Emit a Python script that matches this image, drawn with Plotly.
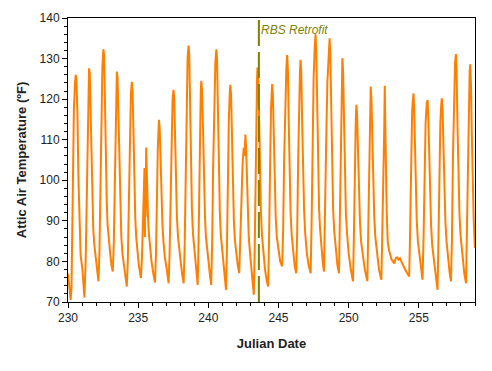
import plotly.graph_objects as go

# Julian date (day + fraction) and attic air temperature (deg F)
julian = [
    230.00, 230.05, 230.12, 230.19, 230.25, 230.30, 230.35, 230.42, 230.50, 230.55, 230.60, 230.67, 230.74, 230.79, 230.86, 230.90,
    231.02, 231.10, 231.17, 231.26, 231.33, 231.40, 231.46, 231.50, 231.55, 231.61, 231.68, 231.74, 231.80, 231.88,
    232.00, 232.08, 232.17, 232.24, 232.31, 232.38, 232.45, 232.52, 232.57, 232.63, 232.70, 232.76, 232.82, 232.90,
    233.02, 233.10, 233.19, 233.26, 233.32, 233.38, 233.43, 233.48, 233.53, 233.60, 233.67, 233.73, 233.80, 233.88,
    234.00, 234.10, 234.19, 234.26, 234.33, 234.40, 234.48, 234.55, 234.60, 234.66, 234.73, 234.79, 234.86, 234.94,
    235.05, 235.12, 235.20, 235.27, 235.34, 235.40, 235.45, 235.48, 235.50, 235.53, 235.57, 235.60, 235.65, 235.70, 235.76, 235.84, 235.95,
    236.08, 236.20, 236.27, 236.33, 236.40, 236.48, 236.53, 236.59, 236.66, 236.73, 236.80, 236.90,
    237.02, 237.10, 237.17, 237.24, 237.31, 237.38, 237.45, 237.52, 237.57, 237.63, 237.70, 237.76, 237.84, 237.94,
    238.06, 238.15, 238.24, 238.31, 238.38, 238.45, 238.52, 238.59, 238.64, 238.70, 238.77, 238.83, 238.90,
    239.00, 239.12, 239.24, 239.29, 239.35, 239.41, 239.46, 239.50, 239.55, 239.62, 239.69, 239.76, 239.83, 239.93,
    240.05, 240.12, 240.20, 240.27, 240.34, 240.42, 240.50, 240.57, 240.62, 240.68, 240.75, 240.82, 240.89,
    241.00, 241.12, 241.26, 241.32, 241.39, 241.46, 241.53, 241.57, 241.62, 241.68, 241.75, 241.82, 241.90,
    242.00, 242.10, 242.20, 242.28, 242.36, 242.44, 242.52, 242.58, 242.64, 242.69, 242.75, 242.81, 242.88, 242.97,
    243.08, 243.17, 243.24, 243.30, 243.36, 243.42, 243.47, 243.50, 243.55, 243.61, 243.68, 243.75, 243.82, 243.92,
    244.04, 244.15, 244.26, 244.32, 244.39, 244.46, 244.52, 244.55, 244.60, 244.66, 244.73, 244.80, 244.88,
    245.00, 245.12, 245.26, 245.33, 245.40, 245.48, 245.56, 245.62, 245.67, 245.73, 245.80, 245.86, 245.94,
    246.05, 246.15, 246.26, 246.33, 246.40, 246.47, 246.53, 246.57, 246.62, 246.68, 246.75, 246.82, 246.90,
    247.02, 247.15, 247.29, 247.36, 247.43, 247.50, 247.58, 247.64, 247.69, 247.75, 247.82, 247.89, 247.96,
    248.08, 248.16, 248.24, 248.32, 248.40, 248.48, 248.56, 248.64, 248.69, 248.75, 248.82, 248.89, 248.97,
    249.10, 249.20, 249.31, 249.37, 249.43, 249.49, 249.55, 249.60, 249.66, 249.73, 249.80, 249.88,
    250.00, 250.15, 250.31, 250.37, 250.43, 250.50, 250.55, 250.60, 250.66, 250.73, 250.80, 250.88,
    251.00, 251.15, 251.33, 251.39, 251.45, 251.51, 251.57, 251.62, 251.68, 251.75, 251.82, 251.90,
    252.02, 252.16, 252.33, 252.39, 252.45, 252.49, 252.53, 252.57, 252.61, 252.64, 252.68, 252.72, 252.78, 252.86, 252.95,
    253.05, 253.15, 253.25, 253.35, 253.45, 253.55, 253.65, 253.75, 253.85, 253.95,
    254.10, 254.20, 254.31, 254.37, 254.44, 254.52, 254.58, 254.62, 254.66, 254.72, 254.78, 254.85, 254.93,
    255.05, 255.15, 255.26, 255.33, 255.40, 255.48, 255.56, 255.62, 255.67, 255.73, 255.80, 255.87, 255.95,
    256.08, 256.20, 256.33, 256.39, 256.46, 256.53, 256.60, 256.64, 256.69, 256.75, 256.82, 256.89, 256.97,
    257.10, 257.20, 257.29, 257.36, 257.43, 257.50, 257.58, 257.64, 257.69, 257.75, 257.82, 257.89, 257.97,
    258.10, 258.24, 258.36, 258.42, 258.49, 258.56, 258.62, 258.66, 258.71, 258.77, 258.83, 258.90, 258.96,
    259.00,
]

temp_f = [
    77.0, 75.5, 72.5, 70.5, 73.5, 88.5, 106.5, 117.5, 124.0, 126.0, 125.0, 117.0, 101.0, 92.0, 85.0, 81.5,
    78.3, 75.1, 71.1, 80.0, 96.4, 114.5, 124.0, 127.6, 126.5, 118.0, 103.0, 94.0, 88.0, 84.0,
    80.5, 78.0, 75.1, 82.0, 100.0, 118.0, 128.0, 132.3, 131.0, 120.0, 104.0, 95.0, 89.0, 85.0,
    81.5, 79.0, 77.5, 84.0, 99.0, 113.0, 122.0, 126.8, 125.5, 116.0, 101.0, 92.0, 86.0, 82.0,
    78.5, 76.0, 73.8, 80.0, 96.0, 112.0, 121.0, 124.3, 122.0, 113.0, 99.0, 91.0, 86.0, 82.0,
    79.0, 77.5, 75.9, 81.0, 88.0, 95.0, 103.0, 86.0, 99.0, 91.0, 108.1, 103.0, 96.0, 91.0, 87.0, 83.0, 80.0,
    77.0, 74.8, 82.0, 95.0, 108.0, 114.9, 113.0, 106.0, 96.0, 89.0, 85.0, 81.0,
    78.5, 76.5, 74.6, 82.0, 98.0, 112.0, 120.0, 122.3, 120.0, 111.0, 99.0, 91.0, 86.0, 82.0,
    79.0, 76.5, 74.6, 83.0, 102.0, 120.0, 130.0, 133.2, 131.0, 119.0, 102.0, 93.0, 87.0,
    83.0, 78.0, 74.2, 82.0, 100.0, 115.0, 122.0, 124.5, 122.0, 113.0, 99.0, 91.0, 86.0, 82.0,
    79.0, 76.5, 74.2, 84.0, 103.0, 120.0, 129.0, 132.3, 130.0, 118.0, 102.0, 92.0, 86.5,
    82.0, 77.5, 73.0, 82.0, 100.0, 115.0, 122.0, 123.5, 121.0, 111.0, 98.0, 90.0, 85.0,
    81.5, 79.0, 77.1, 84.0, 95.0, 104.0, 108.0, 106.0, 111.3, 108.0, 100.0, 92.0, 86.0, 82.0,
    77.5, 74.0, 71.8, 82.0, 102.0, 118.0, 125.0, 127.8, 126.0, 117.0, 101.0, 92.0, 86.5, 82.0,
    78.0, 75.5, 73.8, 84.0, 103.0, 117.0, 122.0, 123.7, 121.0, 111.0, 98.0, 91.0, 86.0,
    82.5, 80.0, 78.8, 88.0, 105.0, 120.0, 128.0, 130.9, 127.0, 114.0, 100.0, 92.0, 86.5,
    82.0, 79.0, 77.1, 87.0, 105.0, 120.0, 127.0, 129.7, 127.0, 115.0, 101.0, 93.0, 87.0,
    82.0, 79.0, 77.1, 90.0, 110.0, 125.0, 133.0, 136.0, 132.0, 118.0, 102.0, 93.0, 88.0,
    82.0, 79.5, 77.5, 90.0, 110.0, 124.0, 132.0, 135.0, 131.0, 118.0, 102.0, 93.0, 87.5,
    82.0, 79.0, 77.1, 89.0, 108.0, 122.0, 130.1, 127.0, 115.0, 100.0, 92.0, 87.0,
    82.0, 78.0, 75.1, 86.0, 102.0, 114.0, 118.6, 116.0, 108.0, 97.0, 90.0, 85.0,
    81.5, 78.0, 75.1, 86.0, 104.0, 117.0, 123.1, 120.0, 111.0, 98.0, 91.0, 86.0,
    81.5, 78.0, 75.5, 86.0, 97.0, 98.0, 112.0, 123.3, 106.0, 104.0, 98.0, 91.0, 85.0, 83.0, 81.5,
    80.5, 80.0, 79.5, 80.8, 81.0, 80.5, 80.8, 80.0, 79.0, 78.5,
    77.5, 77.0, 76.3, 86.0, 104.0, 117.0, 120.0, 121.4, 118.0, 107.0, 97.0, 90.0, 85.0,
    81.0, 78.0, 75.5, 85.0, 102.0, 114.0, 119.0, 119.8, 116.0, 106.0, 96.0, 89.0, 84.0,
    80.0, 76.0, 73.0, 84.0, 102.0, 114.0, 119.0, 120.2, 117.0, 107.0, 97.0, 90.0, 85.0,
    80.0, 77.0, 75.1, 86.0, 106.0, 121.0, 129.0, 131.1, 127.0, 114.0, 100.0, 92.0, 86.5,
    81.0, 77.0, 74.6, 86.0, 105.0, 120.0, 127.0, 128.6, 124.0, 112.0, 99.0, 91.0, 86.0,
    83.3,
]

retrofit_date = 243.6
retrofit_label = "RBS Retrofit"

x_ticks = [230, 235, 240, 245, 250, 255]
y_ticks = [70, 80, 90, 100, 110, 120, 130, 140]

FONT = "Arial, Liberation Sans, sans-serif"

fig = go.Figure()
fig.add_trace(go.Scatter(
    x=julian, y=temp_f, mode="lines",
    line=dict(color="#FF7F00", width=2),
    showlegend=False, hoverinfo="x+y",
))

fig.add_shape(
    type="line", xref="x", yref="paper",
    x0=retrofit_date, x1=retrofit_date, y0=0, y1=1,
    line=dict(color="#7F7F00", width=2, dash="26px,6px"),
)
fig.add_annotation(
    x=retrofit_date, y=1, xref="x", yref="paper",
    text="<i>" + retrofit_label + "</i>", showarrow=False,
    xanchor="left", yanchor="top", xshift=0, yshift=-3,
    font=dict(family=FONT, size=12, color="#7F7F00"),
)

axis_common = dict(
    showgrid=False, zeroline=False, showline=True, linecolor="black", linewidth=1,
    mirror=True, ticks="outside", tickcolor="black", ticklen=5, tickwidth=1,
    tickfont=dict(family=FONT, size=12, color="#222222"),
)

fig.update_xaxes(
    range=[230, 259], tickvals=x_ticks,
    minor=dict(dtick=1, tick0=230, ticks="outside", ticklen=3, tickcolor="black"),
    title=dict(text="<b>Julian Date</b>", font=dict(family=FONT, size=13, color="#222222"), standoff=14),
    **axis_common,
)
fig.update_yaxes(
    range=[70, 140], tickvals=y_ticks,
    minor=dict(dtick=2, tick0=70, ticks="outside", ticklen=3, tickcolor="black"),
    title=dict(text="<b>Attic Air Temperature (ºF)</b>", font=dict(family=FONT, size=13, color="#222222"), standoff=10),
    **axis_common,
)

# the page body adds an 8px offset, so the figure is sized/margined to compensate
fig.update_layout(
    width=484, height=363,
    margin=dict(l=60, r=17, t=10, b=69, autoexpand=False),
    paper_bgcolor="white", plot_bgcolor="white",
    font=dict(family=FONT),
)

fig.write_html("out.html")
